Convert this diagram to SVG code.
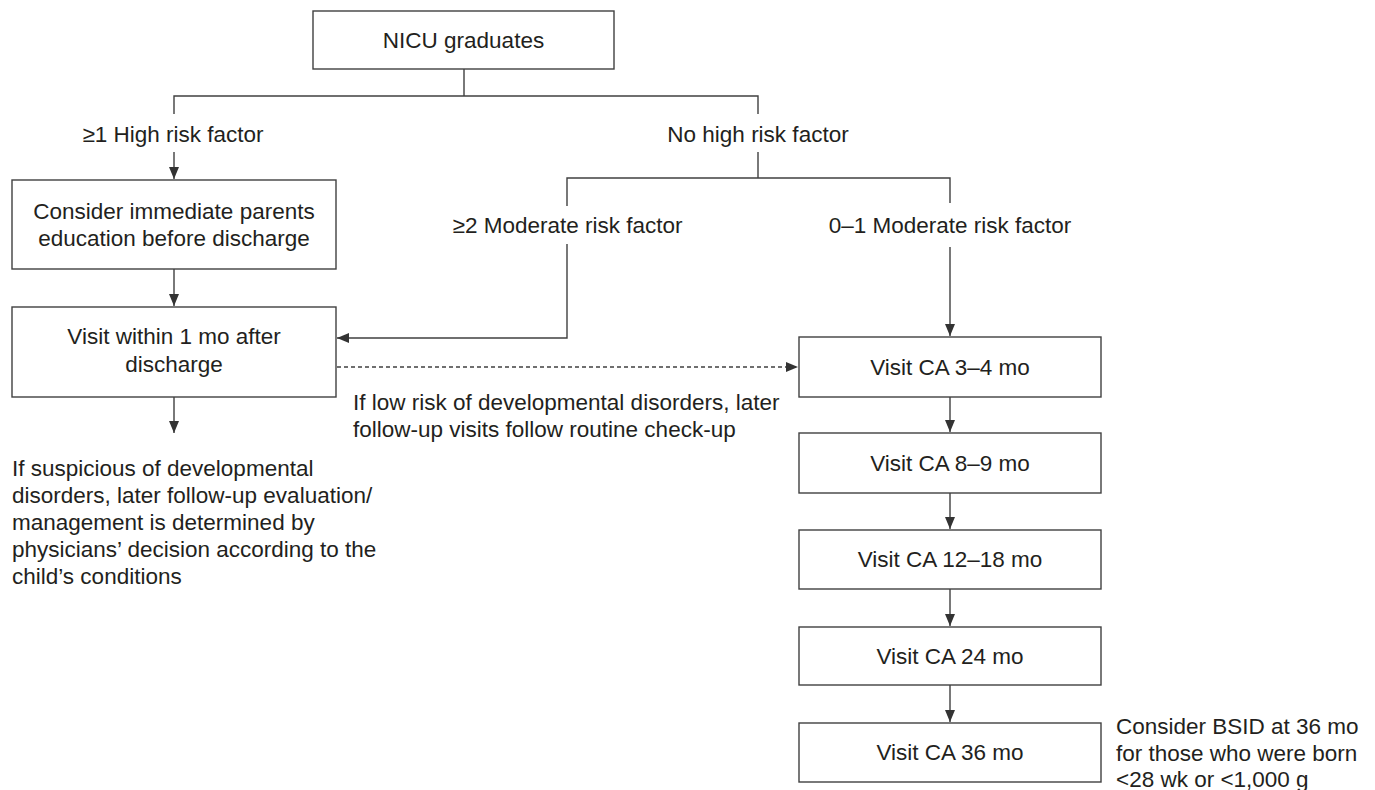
<svg xmlns="http://www.w3.org/2000/svg" width="1375" height="790" viewBox="0 0 1375 790">
<defs>
<marker id="ah" markerUnits="userSpaceOnUse" markerWidth="12" markerHeight="10" refX="12" refY="5" orient="auto">
<path d="M0,0 L12,5 L0,10 z" fill="#333333"/>
</marker>
</defs>
<style>
text{font-family:"Liberation Sans",Arial,sans-serif;font-size:22.5px;fill:#231f20}
.c{text-anchor:middle}
.box{fill:#ffffff;stroke:#404040;stroke-width:1.4}
.ln{fill:none;stroke:#404040;stroke-width:1.4}
.ar{fill:none;stroke:#404040;stroke-width:1.4;marker-end:url(#ah)}
.dash{stroke-dasharray:4 3}
</style>
<rect width="1375" height="790" fill="#ffffff"/>
<g id="connectors">
<polyline class="ln" points="464,69 464,96"/>
<polyline class="ln" points="174,114 174,96 758,96 758,114"/>
<line class="ar" x1="174" y1="152" x2="174" y2="179"/>
<polyline class="ln" points="758,152 758,178"/>
<polyline class="ln" points="567,206 567,178 950,178 950,203"/>
<polyline class="ar" points="567,244 567,338 337,338"/>
<line class="ar" x1="950" y1="247" x2="950" y2="336"/>
<line class="ar" x1="174" y1="269" x2="174" y2="306"/>
<line class="ar" x1="174" y1="397" x2="174" y2="433"/>
<line class="ar dash" x1="337" y1="367" x2="798" y2="367"/>
<line class="ar" x1="950" y1="397" x2="950" y2="432"/>
<line class="ar" x1="950" y1="493" x2="950" y2="529"/>
<line class="ar" x1="950" y1="589" x2="950" y2="626"/>
<line class="ar" x1="950" y1="685" x2="950" y2="722"/>
</g>
<g id="nicu">
<rect class="box" x="313" y="11" width="301" height="58"/>
<text class="c" x="463.5" y="48">NICU graduates</text>
</g>
<g id="label-high">
<text class="c" x="173" y="142">≥1 High risk factor</text>
</g>
<g id="label-nohigh">
<text class="c" x="758" y="142">No high risk factor</text>
</g>
<g id="label-mod2">
<text class="c" x="567.5" y="233">≥2 Moderate risk factor</text>
</g>
<g id="label-mod01">
<text class="c" x="950" y="233">0–1 Moderate risk factor</text>
</g>
<g id="educate">
<rect class="box" x="12" y="180" width="324" height="89"/>
<text class="c" x="174" y="219">Consider immediate parents</text>
<text class="c" x="174" y="246">education before discharge</text>
</g>
<g id="visit1mo">
<rect class="box" x="12" y="307" width="324" height="90"/>
<text class="c" x="174" y="344">Visit within 1 mo after</text>
<text class="c" x="174" y="372">discharge</text>
</g>
<g id="note-suspicious">
<text x="12" y="476">If suspicious of developmental</text>
<text x="12" y="503">disorders, later follow-up evaluation/</text>
<text x="12" y="530">management is determined by</text>
<text x="12" y="557">physicians’ decision according to the</text>
<text x="12" y="584">child’s conditions</text>
</g>
<g id="note-lowrisk">
<text x="353" y="410">If low risk of developmental disorders, later</text>
<text x="353" y="437">follow-up visits follow routine check-up</text>
</g>
<g id="ca3">
<rect class="box" x="799" y="337" width="302" height="60"/>
<text class="c" x="950" y="375">Visit CA 3–4 mo</text>
</g>
<g id="ca8">
<rect class="box" x="799" y="433" width="302" height="60"/>
<text class="c" x="950" y="471">Visit CA 8–9 mo</text>
</g>
<g id="ca12">
<rect class="box" x="799" y="530" width="302" height="59"/>
<text class="c" x="950" y="567">Visit CA 12–18 mo</text>
</g>
<g id="ca24">
<rect class="box" x="799" y="627" width="302" height="58"/>
<text class="c" x="950" y="664">Visit CA 24 mo</text>
</g>
<g id="ca36">
<rect class="box" x="799" y="723" width="302" height="59"/>
<text class="c" x="950" y="760">Visit CA 36 mo</text>
</g>
<g id="note-bsid">
<text x="1116" y="734">Consider BSID at 36 mo</text>
<text x="1116" y="761">for those who were born</text>
<text x="1116" y="787">&lt;28 wk or &lt;1,000 g</text>
</g>
</svg>
